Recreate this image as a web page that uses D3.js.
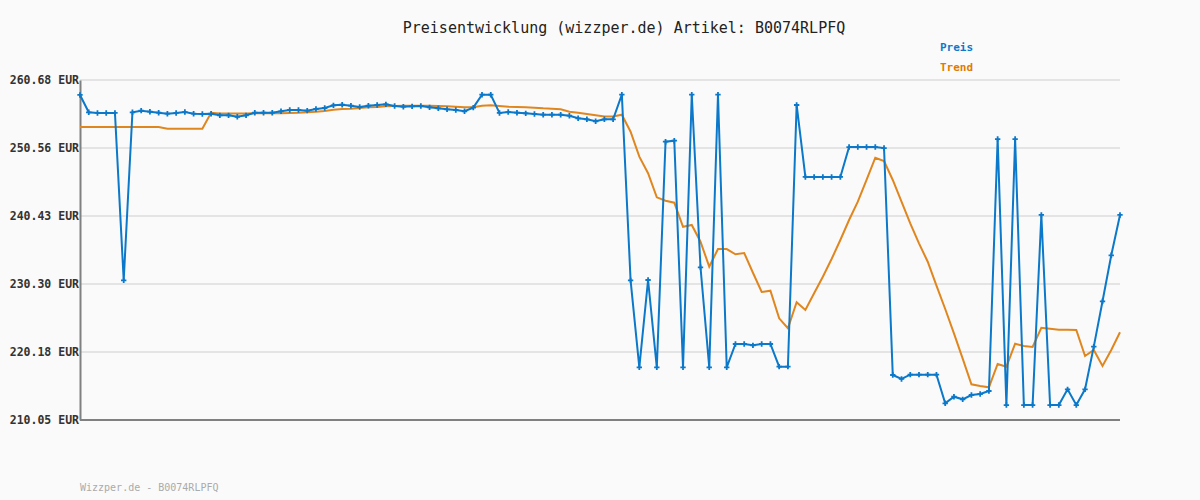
<!DOCTYPE html>
<html>
<head>
<meta charset="utf-8">
<script src="https://cdn.jsdelivr.net/npm/d3@7"></script>
<style>
  body { margin: 0; background: #fafafa; }
  text { font-family: "DejaVu Sans Mono", monospace; }
</style>
</head>
<body>
<div id="chart"></div>
<script>
// price history, one value per sample (no dates shown on the axis)
const preis = [
    258.45, 255.87, 255.77, 255.77, 255.77, 230.85, 255.87, 256.11, 255.96, 255.81,
    255.66, 255.77, 255.91, 255.66, 255.62, 255.66, 255.42, 255.42, 255.21, 255.42,
    255.81, 255.81, 255.81, 256.02, 256.21, 256.21, 256.11, 256.36, 256.51, 256.91,
    257.00, 256.85, 256.66, 256.85, 256.96, 257.06, 256.81, 256.70, 256.76, 256.81,
    256.61, 256.47, 256.32, 256.21, 256.02, 256.56, 258.49, 258.49, 255.77, 255.91,
    255.81, 255.72, 255.62, 255.51, 255.51, 255.51, 255.36, 254.98, 254.83, 254.53,
    254.83, 254.83, 258.49, 230.85, 217.90, 230.90, 217.90, 251.49, 251.64, 217.90,
    258.49, 232.79, 217.90, 258.49, 217.90, 221.37, 221.37, 221.17, 221.37, 221.37,
    217.99, 217.99, 256.96, 246.24, 246.24, 246.24, 246.24, 246.24, 250.70, 250.70,
    250.70, 250.70, 250.55, 216.75, 216.16, 216.80, 216.80, 216.80, 216.80, 212.54,
    213.52, 213.13, 213.77, 213.92, 214.37, 251.89, 212.28, 251.89, 212.28, 212.28,
    240.58, 212.28, 212.28, 214.62, 212.28, 214.62, 220.97, 227.73, 234.58, 240.58
];

const trend = [
    253.68, 253.68, 253.68, 253.68, 253.68, 253.68, 253.68, 253.68, 253.68, 253.68,
    253.43, 253.43, 253.43, 253.43, 253.43, 255.81, 255.69, 255.69, 255.69, 255.69,
    255.72, 255.72, 255.72, 255.72, 255.77, 255.81, 255.87, 255.96, 256.06, 256.26,
    256.36, 256.41, 256.51, 256.61, 256.66, 256.76, 256.81, 256.85, 256.85, 256.85,
    256.85, 256.81, 256.76, 256.70, 256.61, 256.61, 256.85, 256.91, 256.81, 256.70,
    256.66, 256.61, 256.56, 256.47, 256.41, 256.32, 255.96, 255.81, 255.62, 255.42,
    255.24, 255.24, 255.51, 252.98, 249.26, 246.79, 243.21, 242.71, 242.41, 238.83,
    239.09, 236.60, 232.88, 235.51, 235.51, 234.72, 234.92, 231.98, 229.11, 229.30,
    225.19, 223.71, 227.58, 226.43, 228.92, 231.39, 234.02, 236.85, 239.83, 242.56,
    245.79, 249.11, 248.62, 245.79, 242.56, 239.34, 236.36, 233.62, 230.05, 226.58,
    222.96, 219.18, 215.37, 215.11, 214.92, 218.39, 217.99, 221.41, 221.07, 220.92,
    223.79, 223.65, 223.50, 223.50, 223.45, 219.58, 220.47, 218.09, 220.47, 223.11
];

const yTicks = [210.05, 220.18, 230.30, 240.43, 250.56, 260.68];
const artikel = "B0074RLPFQ";

const width = 1200, height = 500;
const margin = { top: 80, right: 80, bottom: 80, left: 80 };
const inner_w = width - margin.left - margin.right;
const inner_h = height - margin.top - margin.bottom;

const blue = "#0b78c9";
const orange = "#e0861f";

const svg = d3.select("#chart")
    .append("svg")
    .attr("width", width)
    .attr("height", height)
    .style("background", "#fafafa");

const g = svg.append("g")
    .attr("transform", `translate(${margin.left},${margin.top})`);

const x = d3.scaleLinear()
    .domain([0, preis.length - 1])
    .range([0, inner_w]);

const y = d3.scaleLinear()
    .domain([yTicks[0], yTicks[yTicks.length - 1]])
    .range([inner_h, 0]);

// title
svg.append("text")
    .attr("x", 624)
    .attr("y", 33)
    .attr("text-anchor", "middle")
    .attr("font-size", 15)
    .attr("fill", "#222")
    .text(`Preisentwicklung (wizzper.de) Artikel: ${artikel}`);

// legend
svg.append("text")
    .attr("x", 940).attr("y", 51)
    .attr("font-size", 11).attr("font-weight", "bold")
    .attr("fill", blue)
    .text("Preis");
svg.append("text")
    .attr("x", 940).attr("y", 71)
    .attr("font-size", 11).attr("font-weight", "bold")
    .attr("fill", "#e07b00")
    .text("Trend");

// grid lines
g.selectAll(".grid")
    .data(yTicks)
    .enter()
    .append("line")
    .attr("x1", 0)
    .attr("x2", inner_w)
    .attr("y1", d => y(d))
    .attr("y2", d => y(d))
    .attr("stroke", "#e4e4e4")
    .attr("stroke-width", 2);

// y axis
const yAxis = g.append("g")
    .call(d3.axisLeft(y)
        .tickValues(yTicks)
        .tickSize(0)
        .tickPadding(1)
        .tickFormat(d => d.toFixed(2) + " EUR"));
yAxis.select(".domain").attr("stroke", "#808080").attr("stroke-width", 2);
yAxis.selectAll("text")
    .attr("font-family", "'DejaVu Sans Mono', monospace")
    .attr("font-size", 11.5)
    .attr("font-weight", "bold")
    .attr("fill", "#333");

// bottom line
g.append("line")
    .attr("x1", 0).attr("x2", inner_w)
    .attr("y1", inner_h).attr("y2", inner_h)
    .attr("stroke", "#808080")
    .attr("stroke-width", 2);

// trend line
g.append("path")
    .datum(trend)
    .attr("fill", "none")
    .attr("stroke", orange)
    .attr("stroke-width", 2)
    .attr("d", d3.line().x((d, i) => x(i)).y(d => y(d)));

// price line
g.append("path")
    .datum(preis)
    .attr("fill", "none")
    .attr("stroke", blue)
    .attr("stroke-width", 2)
    .attr("d", d3.line().x((d, i) => x(i)).y(d => y(d)));

// price markers
g.selectAll(".pt")
    .data(preis)
    .enter()
    .append("path")
    .attr("d", d3.symbol().type(d3.symbolCross).size(16))
    .attr("transform", (d, i) => `translate(${x(i)},${y(d)})`)
    .attr("fill", blue);

// footer
svg.append("text")
    .attr("x", 80)
    .attr("y", 491)
    .attr("font-size", 10)
    .attr("fill", "#aaa")
    .text(`Wizzper.de - ${artikel}`);
</script>
</body>
</html>
